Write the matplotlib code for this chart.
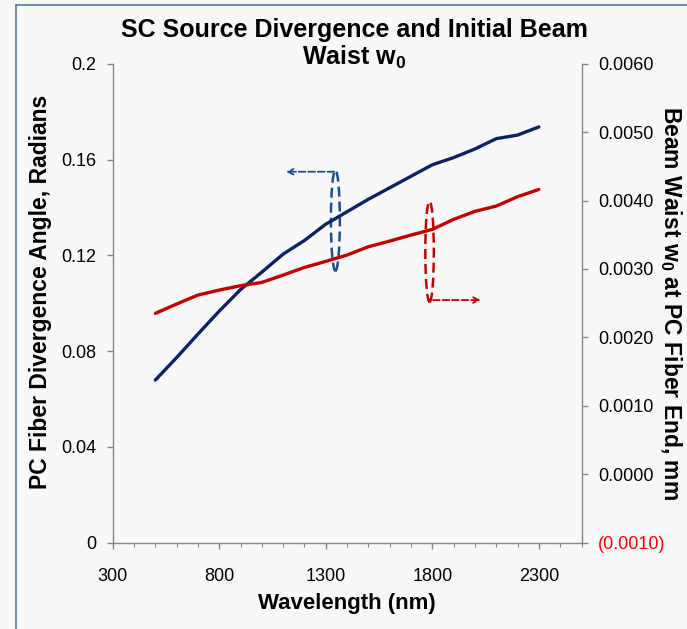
import matplotlib.pyplot as plt
from matplotlib.patches import Ellipse
from matplotlib.ticker import FixedLocator, MultipleLocator
from matplotlib.lines import Line2D

plt.rcParams['font.family'] = ['Liberation Sans', 'DejaVu Sans']
plt.rcParams['mathtext.fontset'] = 'custom'
plt.rcParams['mathtext.rm'] = 'Liberation Sans'
plt.rcParams['mathtext.bf'] = 'Liberation Sans:bold'

# wavelength (nm)
wavelength = [500, 600, 700, 800, 900, 1000, 1100, 1200, 1300, 1400,
              1500, 1600, 1700, 1800, 1900, 2000, 2100, 2200, 2300]
# PC fiber divergence angle (radians), left axis
divergence = [0.0679, 0.0773, 0.0871, 0.0967, 0.1057, 0.1130, 0.1205, 0.1262, 0.1330, 0.1382,
              0.1434, 0.1482, 0.1530, 0.1578, 0.1608, 0.1644, 0.1687, 0.1702, 0.1736]
# beam waist w0 (mm), right axis
waist = [0.002351, 0.002488, 0.002619, 0.002692, 0.002756, 0.002804, 0.002911, 0.003023, 0.003111, 0.003204,
         0.003325, 0.003408, 0.003496, 0.003579, 0.003725, 0.003842, 0.003920, 0.004056, 0.004163]

left_ticks = [0, 0.04, 0.08, 0.12, 0.16, 0.2]
left_labels = ['0', '0.04', '0.08', '0.12', '0.16', '0.2']
right_ticks = [-0.001, 0, 0.001, 0.002, 0.003, 0.004, 0.005, 0.006]
right_labels = ['(0.0010)', '0.0000', '0.0010', '0.0020', '0.0030', '0.0040', '0.0050', '0.0060']
x_ticks = [300, 800, 1300, 1800, 2300]

BLUE = '#0b2263'
RED = '#c00000'
AXIS = '#868686'
W, H = 687, 629

fig = plt.figure(figsize=(W / 100, H / 100), dpi=100, facecolor='#f8f8f8')
ax = fig.add_axes([112.7 / W, 1 - 542.7 / H, 468.8 / W, 479 / H])
ax.set_facecolor('#f8f8f8')
ax2 = ax.twinx()

ax.plot(wavelength, divergence, color=BLUE, lw=2.4, solid_capstyle='round')
ax2.plot(wavelength, waist, color=RED, lw=2.4, solid_capstyle='round')

ax.set_xlim(300, 2500)
ax.set_ylim(0, 0.2)
ax2.set_ylim(-0.001, 0.006)

ax.xaxis.set_major_locator(FixedLocator(x_ticks))
ax.xaxis.set_minor_locator(MultipleLocator(100))
ax.set_yticks(left_ticks)
ax.set_yticklabels(left_labels)
ax2.set_yticks(right_ticks)
ax2.set_yticklabels(right_labels)
ax2.get_yticklabels()[0].set_color('red')

for a in (ax, ax2):
    for s in a.spines.values():
        s.set_visible(False)
ax.spines['left'].set_visible(True)
ax.spines['bottom'].set_visible(True)
ax2.spines['right'].set_visible(True)
for s in (ax.spines['left'], ax.spines['bottom'], ax2.spines['right']):
    s.set_color(AXIS)
    s.set_linewidth(1.0)

ax.tick_params(axis='y', which='major', color=AXIS, length=4, width=1,
               labelsize=13, labelcolor='black', pad=8)
ax.tick_params(axis='x', which='major', color=AXIS, length=4, width=1,
               labelsize=13, labelcolor='black', pad=14)
ax.tick_params(axis='x', which='minor', color=AXIS, length=3, width=0.8)
ax2.tick_params(axis='y', which='major', color=AXIS, length=4, width=1,
                labelsize=13, pad=8)

ax.set_xlabel('Wavelength (nm)', fontsize=16, fontweight='bold', va='center')
ax.xaxis.set_label_coords(0.5, -0.127)
ax.set_ylabel('PC Fiber Divergence Angle, Radians', fontsize=16.5,
              fontweight='bold', va='center')
ax.yaxis.set_label_coords(-0.155, 0.523)
ax2.set_ylabel(r'Beam Waist w$_\mathbf{0}$ at PC Fiber End, mm', fontsize=16.5,
               fontweight='bold', rotation=270, va='center')
ax2.yaxis.set_label_coords(1.19, 0.5)

fig.text(354 / W, 1 - 18 / H, 'SC Source Divergence and Initial Beam\n'
         r'Waist w$_\mathbf{0}$', fontsize=18, fontweight='bold',
         ha='center', va='top', linespacing=1.1)

# hand-drawn series markers
ax.add_patch(Ellipse((1345, 0.1345), 42, 0.042, fill=False, ls=(0, (4, 2)),
                     ec='#1f4e8c', lw=1.8))
ax.annotate('', xy=(1100, 0.1549), xytext=(1352, 0.1549),
            arrowprops=dict(arrowstyle='->', color='#1f4e8c', lw=1.3, ls='--'))
ax.add_patch(Ellipse((1787, 0.1215), 40, 0.042, fill=False, ls=(0, (4, 2)),
                     ec=RED, lw=1.8))
ax.annotate('', xy=(2040, 0.1013), xytext=(1790, 0.1013),
            arrowprops=dict(arrowstyle='->', color=RED, lw=1.3, ls='--'))

# slide frame
fig.add_artist(Line2D([16 / W, 1], [1 - 5 / H, 1 - 5 / H], color='#5b7ba5', lw=1.2))
fig.add_artist(Line2D([16 / W, 16 / W], [0, 1 - 5 / H], color='#5b7ba5', lw=1.2))

fig.savefig('out.png', dpi=100, facecolor=fig.get_facecolor())
